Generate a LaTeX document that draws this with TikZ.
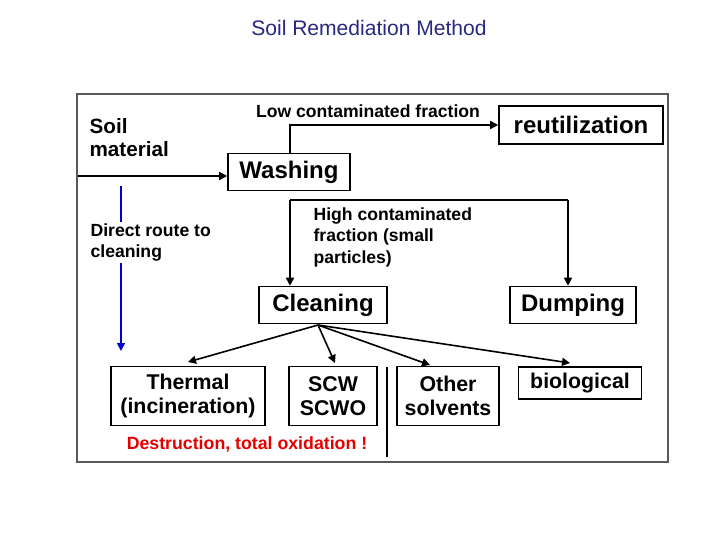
\documentclass[tikz,border=0pt]{standalone}
\usepackage{fontspec}
\setmainfont{Liberation Sans}
\usetikzlibrary{arrows.meta}
\begin{document}
\begin{tikzpicture}[x=0.75pt,y=-0.75pt,
  bx/.style={draw=black,line width=1.2pt,inner sep=0pt,font=\bfseries\fontsize{18}{20}\selectfont},
  sb/.style={draw=black,line width=1pt,inner sep=0pt,align=center,font=\bfseries\fontsize{16}{18.5}\selectfont},
  txt/.style={font=\bfseries\fontsize{13.2}{16}\selectfont,align=left,inner sep=1pt},
  ar/.style={line width=1.2pt,-{Triangle[length=6pt,width=6pt]}}]
\useasboundingbox (0,0) rectangle (720,540);
\node[font=\fontsize{15.8}{17}\selectfont,text={rgb,255:red,40;green,40;blue,130}] (title) at (369,28) {Soil Remediation Method};
\node[draw=gray!70!black,line width=1.6pt,minimum width=591*0.75pt,minimum height=368*0.75pt,anchor=north west] (frame) at (76,93) {};
\node[bx,minimum width=164*0.75pt,minimum height=38*0.75pt] (reut) at (581,125) {reutilization};
\node[bx,minimum width=122*0.75pt,minimum height=37*0.75pt] (wash) at (289,172) {Washing};
\node[bx,minimum width=128*0.75pt,minimum height=37*0.75pt] (clean) at (323,305) {Cleaning};
\node[bx,minimum width=126*0.75pt,minimum height=37*0.75pt] (dump) at (573,305) {Dumping};
\node[txt,font=\bfseries\fontsize{15.5}{17}\selectfont,anchor=north west] (soil) at (88,117) {Soil\\material};
\node[txt,anchor=south] (low) at (368,119) {Low contaminated fraction};
\node[txt,anchor=north west] (high) at (312,206) {High contaminated\\fraction (small\\particles)};
\coordinate (sin) at (78,176);
\draw[ar] (sin) -- (sin -| wash.west);
\coordinate (w1) at (290,125);
\draw[ar] (wash.north -| w1) -- (w1) -- (reut.west);
\coordinate (h1) at (290,200);
\coordinate (h2) at (568,200);
\draw[line width=1.2pt] (h1) -- (h2);
\draw[ar] (h1) -- (h1 |- clean.north);
\draw[ar] (h2) -- (h2 |- dump.north);
\coordinate (b1) at (121,186);
\coordinate (b2) at (121,351);
\draw[line width=1.2pt,blue!80!black,-{Triangle[length=6pt,width=6pt]}] (b1) -- (b2);
\node[txt,fill=white,anchor=north west] (direct) at (89,222) {Direct route to\\cleaning};
\node[sb,minimum width=154*0.75pt,minimum height=59*0.75pt] (therm) at (188,396) {Thermal\\(incineration)};
\node[sb,minimum width=88*0.75pt,minimum height=59*0.75pt] (scw) at (333,396) {SCW\\SCWO};
\node[sb,minimum width=102*0.75pt,minimum height=59*0.75pt] (other) at (448,396) {Other\\solvents};
\node[sb,minimum width=123*0.75pt,minimum height=32*0.75pt] (bio) at (580,383) {biological};
\coordinate (c0) at (318,325);
\draw[ar] (c0) -- (188,362);
\draw[ar] (c0) -- (335,363);
\draw[ar] (c0) -- (430,365);
\draw[ar] (c0) -- (570,363);
\coordinate (s1) at (387,367);
\coordinate (s2) at (387,457);
\draw[line width=0.8pt] (s1) -- (s2);
\node[font=\bfseries\fontsize{13.3}{15}\selectfont,text=red!90!black] (destr) at (247,444) {Destruction, total oxidation !};
\end{tikzpicture}
\end{document}
